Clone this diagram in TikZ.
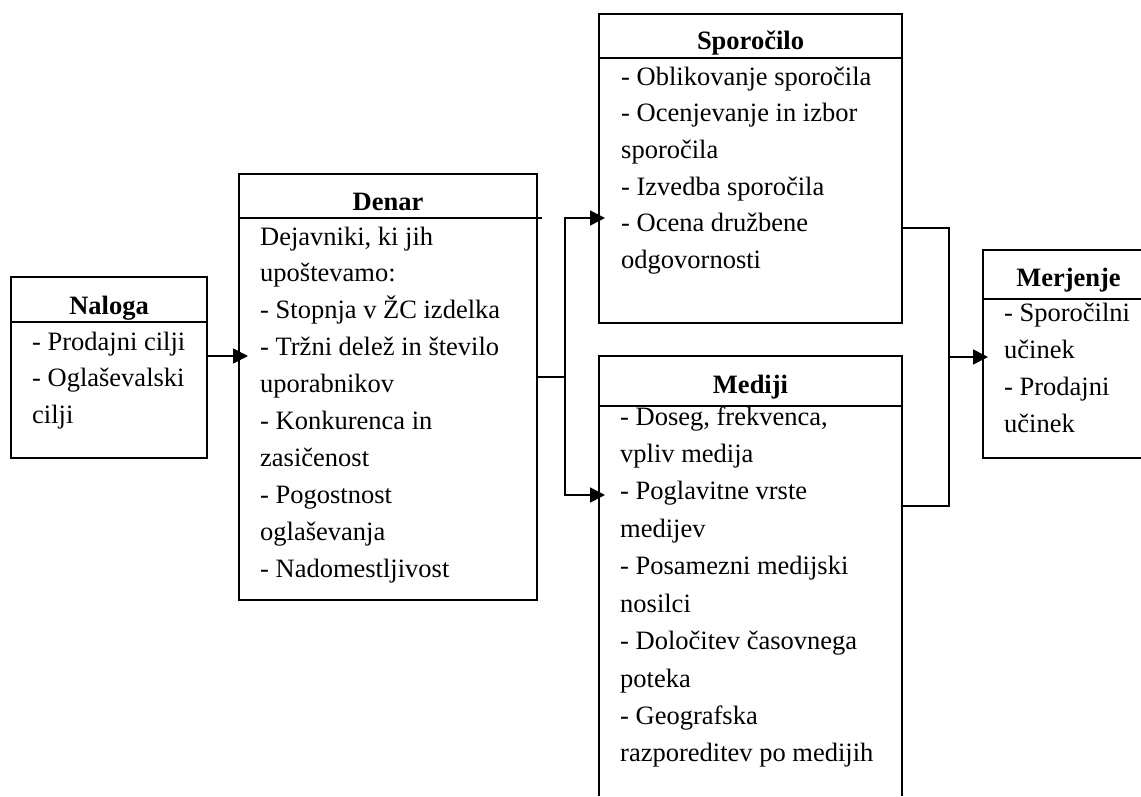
\documentclass[tikz,border=0pt]{standalone}
\usepackage{fontspec}
\setmainfont{Liberation Serif}
\usetikzlibrary{arrows.meta}
\begin{document}
\begin{tikzpicture}[x=1pt,y=-1pt,
  ln/.style={line width=1.6pt},
  frame/.style={rectangle, inner sep=0pt, outer sep=0pt, anchor=north west},
  hdr/.style={anchor=base, inner sep=0pt, font=\fontsize{26.5}{30}\selectfont\bfseries},
  txt/.style={anchor=base west, inner sep=0pt, font=\fontsize{26.5}{30}\selectfont},
  arr/.style={ln, -{Triangle[length=15pt,width=15pt]}}]
\useasboundingbox (0,0) rectangle (1141,796);
\coordinate (rim) at (1141,0);

% Naloga
\node[frame, draw, ln, minimum width=196pt, minimum height=181pt] (naloga) at (11,277) {};
\draw[ln] (naloga.west |- 0,322) -- (naloga.east |- 0,322);
\node[hdr] (nalogaH) at (109,314) {Naloga};
\foreach \t [count=\i from 0] in {{- Prodajni cilji},{- Oglaševalski},{cilji}}
  \node[txt] (nal\i) at (32,{350+36.7*\i}) {\t};

% Denar
\node[frame, draw, ln, minimum width=298pt, minimum height=426pt] (denar) at (239,174) {};
\draw[ln] (denar.west |- 0,218) -- (542,218);
\node[hdr] (denarH) at (388,210) {Denar};
\foreach \t [count=\i from 0] in {{Dejavniki, ki jih},{upoštevamo:},{- Stopnja v ŽC izdelka},{- Tržni delež in število},{uporabnikov},{- Konkurenca in},{zasičenost},{- Pogostnost},{oglaševanja},{- Nadomestljivost}}
  \node[txt] (den\i) at (260,{245+36.9*\i}) {\t};

% Sporocilo
\node[frame, draw, ln, minimum width=303pt, minimum height=309pt] (sporocilo) at (599,14) {};
\draw[ln] (sporocilo.west |- 0,58) -- (sporocilo.east |- 0,58);
\node[hdr] (sporocH) at (750.5,49) {Sporočilo};
\foreach \t [count=\i from 0] in {{- Oblikovanje sporočila},{- Ocenjevanje in izbor},{sporočila},{- Izvedba sporočila},{- Ocena družbene},{odgovornosti}}
  \node[txt] (spo\i) at (621,{85+36.7*\i}) {\t};

% Mediji (open at the bottom edge)
\node[frame, minimum width=303pt, minimum height=440pt] (mediji) at (599,356) {};
\draw[ln] (mediji.south west) -- (mediji.north west) -- (mediji.north east) -- (mediji.south east);
\draw[ln] (mediji.west |- 0,406) -- (mediji.east |- 0,406);
\node[hdr] (medijiH) at (750.5,393) {Mediji};
\foreach \t [count=\i from 0] in {{- Doseg, frekvenca,},{vpliv medija},{- Poglavitne vrste},{medijev},{- Posamezni medijski},{nosilci},{- Določitev časovnega},{poteka},{- Geografska},{razporeditev po medijih}}
  \node[txt] (med\i) at (620,{425+37.44*\i}) {\t};

% Merjenje (cut by the right edge)
\node[frame, minimum width=171pt, minimum height=208pt] (merjenje) at (983,250) {};
\draw[ln] (rim |- merjenje.north) -- (merjenje.north west) -- (merjenje.south west) -- (rim |- merjenje.south);
\draw[ln] (merjenje.west |- 0,299) -- (rim |- 0,299);
\node[hdr] (merjH) at (1068.5,286) {Merjenje};
\foreach \t [count=\i from 0] in {{- Sporočilni},{učinek},{- Prodajni},{učinek}}
  \node[txt] (mer\i) at (1004,{321+37.3*\i}) {\t};

% connectors
\draw[arr, shorten >=-9pt] (naloga.east |- 0,356) -- (denar.west |- 0,356);

\coordinate (fork) at (565,377);
\draw[ln] (denar.east |- fork) -- (fork);
\draw[arr, shorten >=-6pt] (fork) |- (sporocilo.west |- 0,218);
\draw[arr, shorten >=-6pt] (fork) |- (mediji.west |- 0,495);

\coordinate (merge) at (949,357);
\draw[ln] (sporocilo.east |- 0,228) -| (merge);
\draw[ln] (mediji.east |- 0,506) -| (merge);
\draw[arr, shorten >=-5pt] (merge) -- (merjenje.west |- merge);
\end{tikzpicture}
\end{document}
